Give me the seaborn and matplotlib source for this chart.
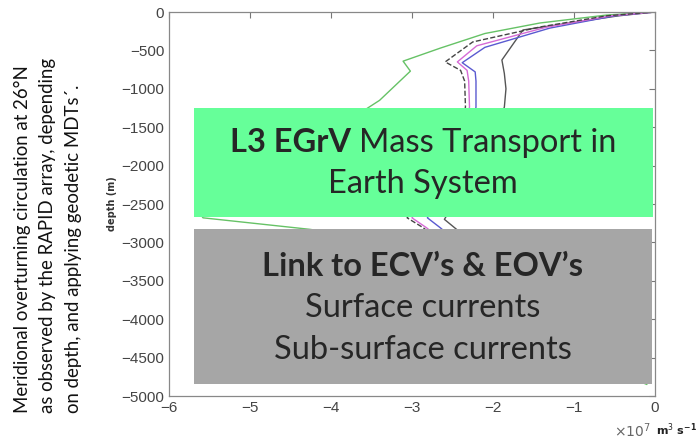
import matplotlib
matplotlib.use("Agg")
import matplotlib.pyplot as plt
from matplotlib.patches import Rectangle
import seaborn as sns
import pandas as pd

# overturning transport profiles (x in 1e7 m3/s, depth in m)
green_x = [0, -0.6, -1.42, -2.1, -2.65, -3.11, -3.02, -3.4, -4.5, -5.3, -5.62, -5.58, -4.26, -3.2, -2.6, -1.8, -0.9, -0.1]
green_d = [0, -40, -143, -280, -470, -640, -770, -1150, -1900, -2400, -2620, -2680, -2830, -3000, -3500, -4000, -4500, -4850]

dash_x = [0, -0.6, -1.42, -2.25, -2.59, -2.4, -2.35, -2.34, -2.6, -3.06, -2.86, -2.3, -1.5, -0.7, -0.05]
dash_d = [0, -50, -195, -390, -650, -760, -900, -1240, -2000, -2680, -2810, -3300, -3900, -4400, -4800]

mag_x = [0, -0.55, -1.35, -2.2, -2.44, -2.32, -2.3, -2.29, -2.55, -3.0, -2.82, -2.25, -1.45, -0.65, -0.05]
mag_d = [0, -50, -200, -440, -650, -760, -900, -1240, -2000, -2680, -2810, -3300, -3900, -4400, -4800]

blue_x = [0, -0.5, -1.3, -2.1, -2.38, -2.22, -2.21, -2.21, -2.45, -2.81, -2.65, -2.1, -1.35, -0.6, -0.05]
blue_d = [0, -50, -210, -460, -660, -780, -900, -1240, -2000, -2680, -2810, -3300, -3900, -4400, -4800]

black_x = [0, -0.45, -1.1, -1.63, -1.89, -1.86, -1.84, -1.86, -2.2, -2.6, -2.45, -1.9, -1.2, -0.55, -0.05]
black_d = [0, -50, -150, -234, -625, -800, -1000, -1240, -2000, -2700, -2830, -3300, -3900, -4400, -4800]

xticks = [-6, -5, -4, -3, -2, -1, 0]
yticks = [0, -500, -1000, -1500, -2000, -2500, -3000, -3500, -4000, -4500, -5000]

sns.set_style("white")
plt.rcParams['font.family'] = ['Lato', 'DejaVu Sans']

W, H = 698, 441
fig = plt.figure(figsize=(W / 100, H / 100), dpi=100)
ax = fig.add_axes([169/W, 45/H, 486/W, 384/H])

series = [
    (green_x, green_d, '#66c266', '-'),
    (black_x, black_d, '#555555', '-'),
    (blue_x, blue_d, '#5a5ad0', '-'),
    (mag_x, mag_d, '#d66ad6', '-'),
    (dash_x, dash_d, '#444444', '--'),
]
for xs, ds, col, ls in series:
    df = pd.DataFrame({'x': xs, 'depth': ds})
    sns.lineplot(data=df, x='x', y='depth', sort=False, estimator=None,
                 color=col, linestyle=ls, linewidth=1.0, ax=ax)

ax.set_xlim(-6, 0)
ax.set_ylim(-5000, 0)
ax.set_xticks(xticks)
ax.set_yticks(yticks)
ax.set_xlabel('')
ax.set_ylabel('depth (m)', fontsize=7, fontweight='bold', color='#333333',
              family='DejaVu Sans', labelpad=3)
ax.tick_params(direction='in', length=4, top=True, right=True, labelsize=11,
               colors='#777777', labelcolor='#444444', width=0.8)
for lab in ax.get_xticklabels() + ax.get_yticklabels():
    lab.set_family('Liberation Sans')
for s in ax.spines.values():
    s.set_color('#888888')
    s.set_linewidth(0.9)

fig.text(651/W, 1 - 431/H, r'$\times10^7$', color='#666666', fontsize=10,
         ha='right', va='center', family='DejaVu Sans')
fig.text(656/W, 1 - 430/H, r'm$^3$ s$^{\mathbf{-1}}$', color='#222222', fontsize=8,
         ha='left', va='center', family='DejaVu Sans', fontweight='bold')

# left caption
cap = ['Meridional overturning circulation at 26°N',
       'as observed by the RAPID array, depending',
       'on depth, and applying geodetic MDTs´.']
for i, line in enumerate(cap):
    fig.text((22 + 26 * i) / W, 1 - 413/H, line, rotation=90, fontsize=13.4,
             ha='center', va='bottom', color='#111111')

# overlay boxes
fig.add_artist(Rectangle((194/W, 1 - 217/H), 459/W, 109/H,
                         transform=fig.transFigure, facecolor='#66ff99',
                         edgecolor='none', zorder=5))
fig.add_artist(Rectangle((194/W, 1 - 384/H), 458/W, 155/H,
                         transform=fig.transFigure, facecolor='#a6a6a6',
                         edgecolor='none', zorder=5))

cx = 423
fs = 23.5
# first line: bold prefix + regular rest, centred together
b = fig.text(0, 1 - 143/H, 'L3 EGrV ', fontsize=fs, fontweight='bold',
             ha='left', va='center', zorder=6)
r = fig.text(0, 1 - 143/H, 'Mass Transport in', fontsize=fs,
             ha='left', va='center', zorder=6)
fig.canvas.draw()
rend = fig.canvas.get_renderer()
wb = b.get_window_extent(rend).width
wr = r.get_window_extent(rend).width
x0 = cx - (wb + wr) / 2
b.set_x(x0 / W)
r.set_x((x0 + wb) / W)

fig.text(cx/W, 1 - 184/H, 'Earth System', fontsize=fs, ha='center', va='center', zorder=6)
fig.text(cx/W, 1 - 266/H, 'Link to ECV’s & EOV’s', fontsize=fs, fontweight='bold',
         ha='center', va='center', zorder=6)
fig.text(cx/W, 1 - 308/H, 'Surface currents', fontsize=fs, ha='center', va='center', zorder=6)
fig.text(cx/W, 1 - 350/H, 'Sub-surface currents', fontsize=fs, ha='center', va='center', zorder=6)

fig.savefig('out.png', dpi=100, facecolor='white')
